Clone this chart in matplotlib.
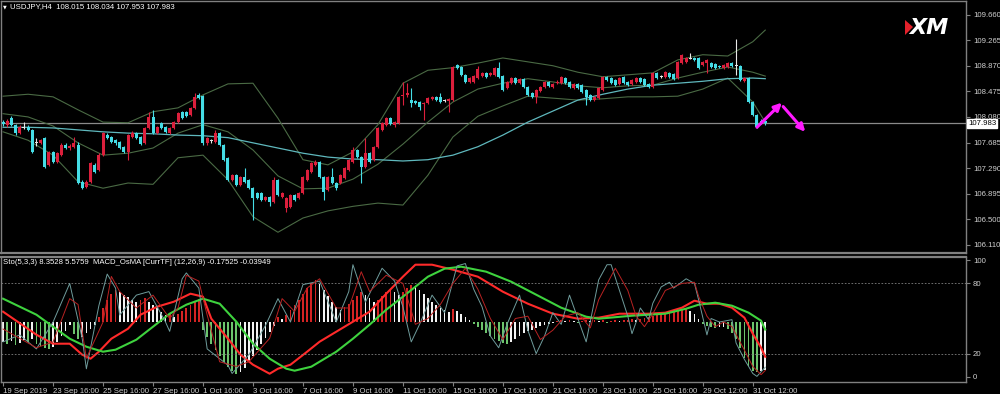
import matplotlib
matplotlib.use("Agg")
import matplotlib.pyplot as plt
import matplotlib.transforms as mtransforms
from matplotlib.patches import Polygon
import numpy as np

plt.rcParams['font.family'] = ['Liberation Sans', 'DejaVu Sans']

# ---------------- price data (USDJPY H4) ----------------
candle_open = [
    108.00, 107.96, 108.06, 107.96, 107.83, 107.91, 107.92, 107.88, 107.68, 107.68,
    107.76, 107.34, 107.54, 107.38, 107.49, 107.65, 107.60, 107.62, 107.65, 107.08,
    107.00, 107.08, 107.34, 107.26, 107.49, 107.80, 107.77, 107.72, 107.69, 107.62,
    107.54, 107.77, 107.83, 107.77, 107.68, 107.91, 108.08, 107.83, 107.99, 107.92,
    107.83, 107.91, 108.00, 108.16, 108.16, 108.11, 108.22, 108.42, 108.40, 107.68,
    107.72, 107.69, 107.83, 107.65, 107.45, 107.11, 107.18, 107.03, 107.15, 107.11,
    106.98, 106.91, 106.91, 106.80, 106.84, 106.77, 107.11, 106.84, 106.67, 106.69,
    106.88, 106.83, 106.91, 107.11, 107.23, 107.34, 107.38, 107.15, 106.95, 107.15,
    107.06, 107.06, 107.14, 107.26, 107.38, 107.57, 107.46, 107.31, 107.52, 107.42,
    107.62, 107.88, 107.96, 108.06, 107.96, 107.99, 108.40, 108.42, 108.34, 108.33,
    108.31, 108.28, 108.30, 108.36, 108.39, 108.39, 108.33, 108.33, 108.34, 108.88,
    108.85, 108.73, 108.62, 108.62, 108.68, 108.71, 108.76, 108.73, 108.73, 108.84,
    108.71, 108.53, 108.60, 108.68, 108.60, 108.67, 108.54, 108.45, 108.39, 108.48,
    108.54, 108.62, 108.54, 108.60, 108.60, 108.68, 108.62, 108.53, 108.59, 108.57,
    108.50, 108.42, 108.34, 108.37, 108.50, 108.70, 108.68, 108.65, 108.59, 108.70,
    108.62, 108.59, 108.62, 108.68, 108.67, 108.59, 108.54, 108.76, 108.71, 108.70,
    108.76, 108.74, 108.68, 108.91, 108.93, 108.99, 108.99, 108.99, 108.88, 108.91,
    108.91, 108.90, 108.87, 108.84, 108.85, 108.91, 108.88, 108.87, 108.63, 108.68,
    108.31, 108.11, 108.02, 108.015]
candle_high = [
    108.03, 108.05, 108.09, 107.97, 107.96, 108.00, 107.96, 107.89, 107.76, 107.74,
    107.77, 107.55, 107.55, 107.54, 107.68, 107.68, 107.66, 107.77, 107.69, 107.11,
    107.11, 107.38, 107.37, 107.52, 107.85, 107.83, 107.79, 107.74, 107.71, 107.63,
    107.82, 107.86, 107.85, 107.79, 107.92, 108.16, 108.19, 107.94, 108.00, 107.94,
    107.92, 108.02, 108.16, 108.17, 108.17, 108.23, 108.45, 108.45, 108.42, 107.77,
    107.74, 107.88, 107.85, 107.66, 107.46, 107.20, 107.20, 107.17, 107.29, 107.12,
    107.00, 106.92, 106.92, 106.86, 106.86, 107.15, 107.12, 106.92, 106.84, 106.89,
    106.89, 106.92, 107.17, 107.28, 107.38, 107.42, 107.40, 107.17, 107.17, 107.29,
    107.08, 107.20, 107.31, 107.43, 107.62, 107.59, 107.48, 107.76, 107.54, 107.63,
    107.92, 108.00, 108.08, 108.08, 108.02, 108.40, 108.62, 108.60, 108.53, 108.34,
    108.33, 108.31, 108.39, 108.40, 108.40, 108.45, 108.36, 108.37, 108.87, 108.90,
    108.87, 108.74, 108.70, 108.73, 108.87, 108.77, 108.77, 108.77, 108.85, 108.93,
    108.73, 108.63, 108.70, 108.70, 108.68, 108.68, 108.56, 108.46, 108.51, 108.56,
    108.63, 108.63, 108.60, 108.65, 108.71, 108.70, 108.63, 108.60, 108.60, 108.59,
    108.51, 108.43, 108.40, 108.54, 108.71, 108.71, 108.70, 108.67, 108.70, 108.71,
    108.63, 108.67, 108.70, 108.70, 108.68, 108.60, 108.77, 108.77, 108.73, 108.79,
    108.77, 108.76, 108.94, 109.05, 109.00, 109.07, 109.00, 109.00, 108.94, 108.97,
    108.93, 108.91, 108.88, 108.90, 108.93, 108.93, 109.28, 108.88, 108.70, 108.70,
    108.33, 108.13, 108.05, 108.034]
candle_low = [
    107.94, 107.92, 107.94, 107.80, 107.82, 107.89, 107.86, 107.52, 107.63, 107.66,
    107.29, 107.32, 107.37, 107.37, 107.48, 107.59, 107.57, 107.60, 107.04, 106.97,
    106.98, 107.06, 107.21, 107.25, 107.48, 107.74, 107.68, 107.65, 107.59, 107.52,
    107.42, 107.76, 107.74, 107.65, 107.66, 107.89, 107.82, 107.82, 107.89, 107.83,
    107.82, 107.89, 107.99, 108.05, 108.08, 108.09, 108.20, 108.36, 107.65, 107.65,
    107.68, 107.68, 107.63, 107.40, 107.09, 107.09, 107.01, 107.01, 107.06, 106.97,
    106.49, 106.81, 106.78, 106.78, 106.70, 106.75, 106.86, 106.83, 106.61, 106.67,
    106.78, 106.81, 106.89, 107.09, 107.21, 107.32, 107.14, 106.80, 106.94, 107.04,
    106.95, 107.04, 107.12, 107.25, 107.37, 107.45, 107.06, 107.29, 107.37, 107.40,
    107.60, 107.86, 107.94, 107.96, 107.92, 107.97, 108.26, 108.39, 108.23, 108.28,
    108.19, 108.03, 108.28, 108.34, 108.33, 108.30, 108.31, 108.16, 108.33, 108.82,
    108.71, 108.60, 108.60, 108.60, 108.67, 108.70, 108.68, 108.71, 108.71, 108.68,
    108.48, 108.51, 108.59, 108.59, 108.59, 108.53, 108.40, 108.37, 108.30, 108.46,
    108.53, 108.54, 108.53, 108.59, 108.59, 108.59, 108.53, 108.51, 108.51, 108.45,
    108.26, 108.33, 108.33, 108.36, 108.48, 108.63, 108.59, 108.56, 108.57, 108.59,
    108.56, 108.57, 108.60, 108.60, 108.56, 108.53, 108.53, 108.67, 108.68, 108.68,
    108.68, 108.65, 108.67, 108.90, 108.91, 108.97, 108.94, 108.82, 108.87, 108.76,
    108.84, 108.82, 108.84, 108.82, 108.84, 108.85, 108.73, 108.63, 108.62, 108.30,
    108.09, 107.91, 107.97, 107.953]
candle_close = [
    107.97, 108.02, 107.96, 107.83, 107.92, 107.92, 107.88, 107.54, 107.69, 107.72,
    107.31, 107.54, 107.38, 107.52, 107.65, 107.60, 107.63, 107.68, 107.06, 106.98,
    107.08, 107.37, 107.23, 107.49, 107.83, 107.76, 107.69, 107.68, 107.60, 107.54,
    107.80, 107.83, 107.76, 107.66, 107.91, 108.08, 107.83, 107.92, 107.91, 107.85,
    107.91, 108.00, 108.14, 108.06, 108.09, 108.22, 108.39, 108.37, 107.68, 107.76,
    107.71, 107.83, 107.65, 107.42, 107.11, 107.18, 107.03, 107.15, 107.08, 106.98,
    106.83, 106.83, 106.80, 106.84, 106.77, 107.11, 106.88, 106.91, 106.83, 106.88,
    106.80, 106.91, 107.15, 107.26, 107.37, 107.38, 107.15, 106.92, 107.15, 107.06,
    106.98, 107.18, 107.29, 107.42, 107.57, 107.46, 107.31, 107.52, 107.38, 107.62,
    107.91, 107.99, 108.06, 107.97, 108.00, 108.39, 108.42, 108.45, 108.30, 108.30,
    108.23, 108.30, 108.37, 108.39, 108.34, 108.31, 108.34, 108.36, 108.85, 108.84,
    108.73, 108.62, 108.68, 108.71, 108.82, 108.76, 108.70, 108.76, 108.84, 108.70,
    108.50, 108.62, 108.68, 108.60, 108.67, 108.54, 108.42, 108.39, 108.50, 108.54,
    108.62, 108.56, 108.59, 108.62, 108.70, 108.60, 108.54, 108.59, 108.53, 108.46,
    108.39, 108.34, 108.39, 108.53, 108.70, 108.65, 108.60, 108.57, 108.68, 108.60,
    108.57, 108.65, 108.68, 108.62, 108.57, 108.54, 108.76, 108.68, 108.70, 108.77,
    108.70, 108.67, 108.93, 109.04, 108.99, 108.98, 108.96, 108.84, 108.93, 108.96,
    108.85, 108.84, 108.85, 108.88, 108.91, 108.87, 108.87, 108.65, 108.68, 108.31,
    108.11, 107.92, 107.99, 107.983]

# moving average and Bollinger bands, read every 6 bars
line_idx = [0, 6, 12, 18, 24, 30, 36, 42, 48, 54, 60, 66, 72, 78, 84, 90,
            96, 102, 108, 114, 120, 126, 132, 138, 144, 150, 156, 162, 168, 174, 180, 183]
ma_long = [107.92, 107.92, 107.91, 107.88, 107.85, 107.83, 107.82, 107.80, 107.79, 107.76,
           107.68, 107.60, 107.52, 107.46, 107.43, 107.42, 107.40, 107.42, 107.49, 107.62,
           107.80, 108.00, 108.17, 108.34, 108.43, 108.51, 108.57, 108.60, 108.63, 108.67,
           108.68, 108.67]
bb_upper = [108.40, 108.43, 108.39, 108.19, 108.00, 107.99, 108.16, 108.22, 108.42, 108.59,
            108.60, 108.06, 107.42, 107.34, 107.54, 107.96, 108.60, 108.80, 108.84, 108.91,
            108.99, 108.93, 108.87, 108.77, 108.70, 108.73, 108.76, 108.96, 109.04, 109.02,
            109.24, 109.42]
bb_mid = [108.13, 108.08, 107.94, 107.68, 107.49, 107.52, 107.60, 107.83, 107.96, 107.85,
          107.57, 107.17, 106.97, 106.98, 107.12, 107.35, 107.66, 108.00, 108.31, 108.51,
          108.60, 108.67, 108.62, 108.56, 108.53, 108.56, 108.57, 108.68, 108.77, 108.85,
          108.77, 108.71]
bb_lower = [107.85, 107.72, 107.49, 107.08, 106.98, 107.06, 107.04, 107.45, 107.49, 107.11,
            106.54, 106.30, 106.52, 106.63, 106.70, 106.75, 106.72, 107.18, 107.77, 108.09,
            108.25, 108.40, 108.37, 108.34, 108.36, 108.39, 108.39, 108.40, 108.51, 108.68,
            108.31, 108.00]

last_price = 107.983
price_ticks = [109.660, 109.265, 108.870, 108.475, 108.080, 107.685, 107.290, 106.895, 106.500, 106.110]

# forecast arrows (bar, price): start -> end
arrow_up = [(181, 107.92), (187, 108.30)]
arrow_down = [(187.3, 108.24), (192.6, 107.85)]

# ---------------- indicator data ----------------
osma = [
    -0.100, -0.110, -0.095, -0.115, -0.105, -0.090, -0.100, -0.085, -0.110, -0.120,
    -0.130, -0.135, -0.125, -0.100, -0.070, -0.045, -0.015, -0.060, -0.085, -0.075,
    -0.055, -0.035, -0.015, 0.025, 0.070, 0.110, 0.140, 0.160, 0.150, 0.135,
    0.125, 0.110, 0.100, 0.110, 0.120, 0.100, 0.085, 0.070, 0.050, 0.035,
    0.040, 0.025, 0.040, 0.055, 0.070, 0.085, 0.100, 0.115, -0.040, -0.075,
    -0.110, -0.140, -0.170, -0.200, -0.225, -0.245, -0.260, -0.250, -0.230, -0.200,
    -0.170, -0.140, -0.110, -0.080, -0.050, -0.020, 0.025, 0.015, 0.035, 0.060,
    0.085, 0.110, 0.140, 0.170, 0.195, 0.210, 0.190, 0.160, 0.130, 0.100,
    0.075, 0.060, 0.075, 0.090, 0.110, 0.130, 0.150, 0.135, 0.120, 0.100,
    0.110, 0.130, 0.150, 0.165, 0.150, 0.135, 0.150, 0.170, 0.185, 0.175,
    0.160, 0.140, 0.120, 0.100, 0.085, 0.070, 0.060, 0.050, 0.065, 0.055,
    0.040, 0.025, 0.010, -0.010, -0.025, -0.040, -0.055, -0.070, -0.085, -0.095,
    -0.105, -0.110, -0.100, -0.085, -0.070, -0.055, -0.045, -0.040, -0.030, -0.020,
    -0.015, -0.010, -0.005, 0.005, 0.010, 0.005, 0.010, 0.005, -0.005, 0.005,
    0.010, 0.005, 0.010, 0.005, 0.010, -0.005, 0.005, 0.010, 0.005, 0.010,
    0.010, 0.015, 0.010, 0.015, 0.020, 0.025, 0.030, 0.035, 0.040, 0.045,
    0.050, 0.055, 0.060, 0.065, 0.065, 0.055, 0.040, 0.015, -0.010, -0.020,
    -0.025, -0.030, -0.025, -0.025, -0.035, -0.055, -0.085, -0.130, -0.180, -0.220,
    -0.245, -0.250, -0.245, -0.240]

macd_idx = [0, 8, 12, 16, 19, 21, 23, 26, 30, 33, 37, 41, 45, 48, 50, 54, 57, 60, 64,
            66, 69, 73, 76, 80, 84, 88, 92, 96, 99, 103, 108, 114, 120, 126, 132, 138,
            143, 148, 155, 159, 163, 166, 169, 172, 175, 178, 180, 182, 183]
macd_main = [0.050, -0.065, -0.110, -0.110, -0.165, -0.185, -0.150, -0.085, -0.035, 0.035,
             0.075, 0.100, 0.140, 0.125, 0.015, -0.085, -0.165, -0.215, -0.260, -0.235,
             -0.215, -0.150, -0.100, -0.050, 0.000, 0.050, 0.140, 0.225, 0.285, 0.285,
             0.260, 0.225, 0.150, 0.090, 0.040, 0.015, 0.020, 0.040, 0.040, 0.045,
             0.070, 0.105, 0.090, 0.090, 0.070, 0.020, -0.060, -0.130, -0.17525]
signal_idx = [0, 8, 12, 16, 20, 24, 27, 32, 36, 40, 44, 48, 52, 56, 60, 64, 68, 70, 74,
              80, 84, 88, 92, 96, 102, 106, 110, 116, 122, 128, 134, 140, 143, 151, 159,
              164, 167, 171, 175, 179, 182, 183]
macd_signal = [0.115, 0.035, -0.025, -0.085, -0.125, -0.150, -0.140, -0.090, -0.025, 0.040,
               0.085, 0.115, 0.090, 0.000, -0.110, -0.185, -0.235, -0.245, -0.225, -0.150,
               -0.085, -0.015, 0.060, 0.125, 0.225, 0.265, 0.275, 0.250, 0.200, 0.135,
               0.070, 0.025, 0.015, 0.030, 0.040, 0.065, 0.085, 0.095, 0.080, 0.045,
               0.005, -0.03949]

stoch_k_idx = [0, 4, 8, 12, 16, 19, 20, 23, 25, 27, 28, 32, 35, 39, 40, 43, 44, 47, 49,
               54, 55, 59, 63, 66, 69, 72, 76, 80, 83, 84, 87, 91, 94, 96, 98, 100, 103,
               106, 109, 111, 113, 115, 117, 119, 121, 124, 126, 128, 130, 132, 134, 136,
               138, 140, 143, 145, 146, 148, 150, 151, 152, 153, 155, 156, 158, 160, 161,
               164, 166, 167, 169, 170, 172, 175, 176, 178, 180, 181, 183]
stoch_k = [30, 36, 24, 47, 80, 33, 7, 61, 88, 76, 53, 70, 73, 47, 39, 84, 89, 76, 24,
           10, 3, 19, 44, 67, 47, 79, 82, 47, 73, 96, 64, 93, 82, 60, 30, 45, 70,
           55, 95, 97, 75, 60, 35, 25, 45, 70, 40, 20, 35, 55, 45, 70,
           50, 30, 83, 96, 96, 74, 52, 37, 47, 59, 49, 63, 77, 81, 76,
           84, 80, 66, 36, 50, 47, 49, 29, 15, 3, 0.5, 8.3528]
stoch_d_idx = [0, 8, 12, 16, 18, 20, 24, 26, 28, 32, 36, 40, 42, 44, 47, 49, 52, 56, 59,
               64, 67, 70, 73, 76, 80, 83, 86, 88, 92, 96, 99, 102, 105, 108, 111, 114,
               117, 120, 123, 126, 129, 132, 135, 138, 141, 143, 147, 150, 152, 154, 156,
               159, 161, 163, 166, 167, 169, 171, 173, 175, 178, 180, 182, 183]
stoch_d = [41, 25, 30, 67, 62, 16, 47, 86, 73, 59, 70, 50, 59, 87, 82, 53, 13, 9, 13,
           33, 67, 56, 76, 84, 59, 59, 90, 73, 87, 80, 45, 50, 62, 80, 93, 75,
           50, 32, 50, 52, 32, 40, 52, 55, 42, 66, 93, 74, 52, 43, 54,
           74, 77, 80, 81, 69, 52, 43, 47, 43, 23, 9, 2, 5.5759]

date_labels = ["19 Sep 2019", "23 Sep 16:00", "25 Sep 16:00", "27 Sep 16:00", "1 Oct 16:00",
               "3 Oct 16:00", "7 Oct 16:00", "9 Oct 16:00", "11 Oct 16:00", "15 Oct 16:00",
               "17 Oct 16:00", "21 Oct 16:00", "23 Oct 16:00", "25 Oct 16:00", "29 Oct 12:00",
               "31 Oct 12:00"]
date_bars = [0, 12, 24, 36, 48, 60, 72, 84, 96, 108, 120, 132, 144, 156, 168, 180]

# ---------------- styling ----------------
BG = 'black'
GRID = '#808080'
TXT = '#d0d0d0'
BULL = '#dc1f3c'
BEAR = '#45dde6'
DOJI = '#e8e8e8'
BAND = '#4a6a44'
MA_COL = '#5fb8bd'
FS = 5.6

W, H = 1000, 394
fig = plt.figure(figsize=(W / 100, H / 100), dpi=100, facecolor=BG)
ax = fig.add_axes([0.001, (H - 253) / H, 0.965, 252 / H], facecolor=BG)
ind = fig.add_axes([0.001, (H - 382) / H, 0.965, 125 / H], facecolor=BG)
mac = ind.twinx()
ind.set_zorder(mac.get_zorder() + 1)
ind.patch.set_visible(False)
mac.patch.set_facecolor(BG)

x_lim = (-0.5, 231.2)

# ---- candles ----
o = np.array(candle_open)
c = np.array(candle_close)
hi = np.array(candle_high)
lo = np.array(candle_low)
xs = np.arange(len(c))
d = c - o
cols = np.where(np.abs(d) < 0.011, DOJI, np.where(d > 0, BULL, BEAR))
ax.vlines(xs, lo, hi, colors=cols, lw=0.8, zorder=3)
ax.bar(xs, np.maximum(np.abs(d), 0.012), bottom=np.minimum(o, c), width=0.72,
       color=cols, lw=0, zorder=4)

ax.plot(line_idx, bb_upper, color=BAND, lw=0.8, zorder=2)
ax.plot(line_idx, bb_mid, color=BAND, lw=0.8, zorder=2)
ax.plot(line_idx, bb_lower, color=BAND, lw=0.8, zorder=2)
ax.plot(line_idx, ma_long, color=MA_COL, lw=0.9, zorder=2)
ax.axhline(last_price, color='#8a8a8a', lw=0.9, zorder=1)

for (x0, y0), (x1, y1) in (arrow_up, arrow_down):
    ax.annotate('', xy=(x1, y1), xytext=(x0, y0), zorder=6,
                arrowprops=dict(arrowstyle='-|>', color='#ff19ff', lw=2.2,
                                mutation_scale=11, shrinkA=0, shrinkB=0))

ax.set_xlim(*x_lim)
ax.set_ylim(105.98, 109.869)
ax.yaxis.tick_right()
ax.set_yticks(price_ticks)
ax.set_yticklabels([f"{t:.3f}" for t in price_ticks])
ax.tick_params(axis='y', colors=GRID, labelcolor=TXT, labelsize=FS, length=3, width=0.8, pad=2)
ax.tick_params(axis='x', bottom=False, labelbottom=False)
for s in ax.spines.values():
    s.set_color(GRID)
    s.set_linewidth(1.0)
ax.spines['bottom'].set_linewidth(1.6)

tr = mtransforms.blended_transform_factory(ax.transAxes, ax.transData)
ax.text(1.002, last_price, f"{last_price:.3f}", transform=tr, fontsize=FS, color='black',
        va='center', ha='left', zorder=10,
        bbox=dict(boxstyle='square,pad=0.12', fc='white', ec='white'))

# ---- indicator window ----
prev = np.concatenate([[osma[0]], osma[:-1]])
ov = np.array(osma)
hcols = np.where(ov >= 0, np.where(ov >= prev, '#d42323', '#f2f2f2'),
                 np.where(ov < prev, '#6cc46c', '#f2f2f2'))
mac.bar(xs, ov, width=0.42, color=hcols, lw=0, zorder=1)
mac.plot(macd_idx, macd_main, color='#ff2a2a', lw=1.5, zorder=3)
mac.plot(signal_idx, macd_signal, color='#3ed23e', lw=1.5, zorder=3)
mac.set_ylim(-0.3015, 0.3235)
mac.set_yticks([])
mac.set_xlim(*x_lim)
for s in mac.spines.values():
    s.set_visible(False)

ind.plot(stoch_k_idx, stoch_k, color='#6f9c9c', lw=0.7, zorder=4)
ind.plot(stoch_d_idx, stoch_d, color='#b82222', lw=0.7, zorder=4)
for lvl in (20, 80):
    ind.axhline(lvl, color=GRID, lw=0.6, ls=(0, (2, 2)), zorder=0)
ind.set_xlim(*x_lim)
ind.set_ylim(-4.3, 102.6)
ind.yaxis.tick_right()
ind.set_yticks([0, 20, 80, 100])
ind.set_yticklabels(['0', '20', '80', '100'])
ind.tick_params(axis='y', colors=GRID, labelcolor=TXT, labelsize=FS, length=3, width=0.8, pad=2)
ind.set_xticks(date_bars)
ind.set_xticklabels(date_labels, ha='left')
ind.tick_params(axis='x', colors=GRID, labelcolor=TXT, labelsize=FS, length=3, width=0.8, pad=1)
for s in ind.spines.values():
    s.set_color(GRID)
    s.set_linewidth(1.0)
ind.spines['top'].set_linewidth(1.6)

# ---- header texts ----
fig.text(3 / W, 1 - 7 / H, '\u25BC', color='white', fontsize=3.5, va='center', ha='left',
         family='DejaVu Sans')
fig.text(10 / W, 1 - 7 / H, 'USDJPY,H4  108.015 108.034 107.953 107.983', color='white',
         fontsize=FS, va='center', ha='left')
fig.text(3 / W, 1 - 262 / H,
         'Sto(5,3,3) 8.3528 5.5759  MACD_OsMA [CurrTF] (12,26,9) -0.17525 -0.03949',
         color='white', fontsize=FS, va='center', ha='left')

# XM logo
fig.patches.append(Polygon([(905 / W, 1 - 20 / H), (913 / W, 1 - 27 / H), (905 / W, 1 - 35 / H)],
                           closed=True, transform=fig.transFigure, fc='#e3212b', ec='none'))
fig.text(909 / W, 1 - 28 / H, 'XM', color='white', fontsize=16, fontweight='bold',
         style='italic', va='center', ha='left', family='DejaVu Sans')

fig.savefig('out.png', dpi=100, facecolor=BG)
